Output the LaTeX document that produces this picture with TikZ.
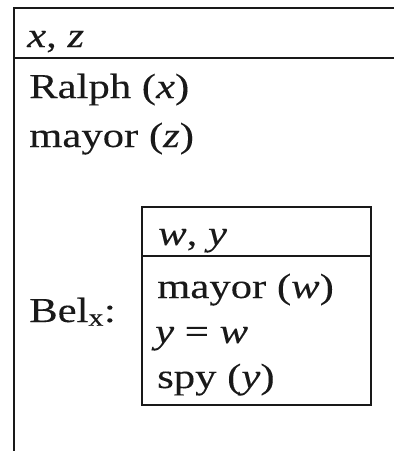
\documentclass[tikz,border=0pt]{standalone}
\usepackage{fontspec}
\setmainfont{Liberation Serif}[FakeStretch=1.22, FakeBold=0.15]
\begin{document}
\begin{tikzpicture}[x=1pt,y=-1pt,
  rule/.style={line width=2pt, black!90},
  txt/.style={anchor=base west, inner sep=0pt, text=black!90, font=\fontsize{35}{42}\selectfont}]
\useasboundingbox (0,0) rectangle (394,451);
% outer DRS: top rule, header rule and left side
\draw[rule] (394,7.5) -- (14,7.5) -- (14,451);
\draw[rule] (14,57.7) -- (394,57.7);
\node[txt] (univ) at (27,47) {\textit{x}, \textit{z}};
\node[txt] (ralph) at (29,98) {Ralph (\textit{x})};
\node[txt] (mayorz) at (29,147) {mayor (\textit{z})};
\node[txt] (bel) at (29,322) {Bel\textsubscript{x}:};
% embedded DRS
\draw[rule] (142,207) rectangle (371,404.7);
\draw[rule] (142,256) -- (371,256);
\node[txt] (innuniv) at (158,245) {\textit{w}, \textit{y}};
\node[txt] (mayorw) at (157,298) {mayor (\textit{w})};
\node[txt] (eq) at (155,343) {\textit{y} = \textit{w}};
\node[txt] (spy) at (157,388) {spy (\textit{y})};
\end{tikzpicture}
\end{document}
